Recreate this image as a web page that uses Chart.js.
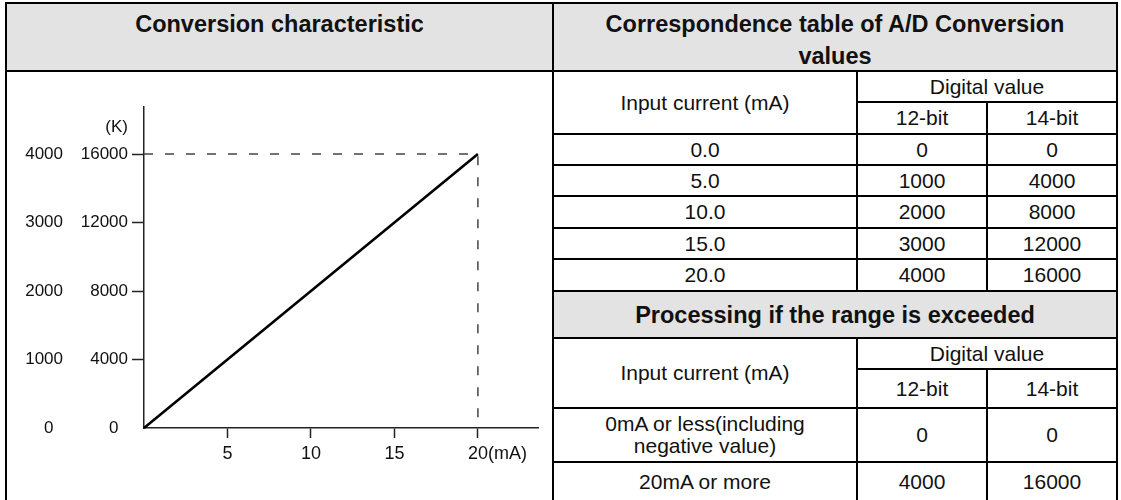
<!DOCTYPE html>
<html>
<head>
<meta charset="utf-8">
<title>A/D conversion characteristic</title>
<script src="https://cdn.jsdelivr.net/npm/chart.js@4/dist/chart.umd.min.js"></script>
<style>
  html, body { margin: 0; padding: 0; background: #fff; width: 1121px; height: 500px; overflow: hidden;
    font-family: "Liberation Sans", Arial, Helvetica, sans-serif; color: #111; }
  .cell { position: absolute; box-sizing: border-box; border: 2px solid #000; display: flex;
    align-items: center; justify-content: center; text-align: center; font-size: 21px; line-height: 22px;
    white-space: pre-line; }
  .head { background: #e3e3e3; font-weight: bold; font-size: 23.5px; line-height: 32px; }
  .top { align-items: flex-start; padding-top: 4px; }
  #chartBox { position: absolute; left: 8px; top: 73px; width: 544px; height: 427px; }
</style>
</head>
<body>
<div id="table"></div>
<div id="chartBox"><canvas id="chart" width="544" height="427"></canvas></div>
<script>
// ---- data ----
const currentMA = [0, 5, 10, 15, 20];
const digital12 = [0, 1000, 2000, 3000, 4000];
const digital14 = [0, 4000, 8000, 12000, 16000];
const xTickValues = [5, 10, 15, 20];
const yTickValues14 = [0, 4000, 8000, 12000, 16000];
const yTickValues12 = [0, 1000, 2000, 3000, 4000];
const rangeCases = ['0mA or less(including\nnegative value)', '20mA or more'];
const rangeValues12 = [0, 4000];
const rangeValues14 = [0, 16000];

// ---- table layout (line positions) ----
const colX = [6, 553, 857, 987, 1117];
const headY = [3, 71];
const convRowsY = [71, 102, 134, 165, 196, 228, 259, 291];
const rangeRowsY = [291, 338, 369, 408, 462, 502];

const tableEl = document.getElementById('table');
function addCell(x0, x1, y0, y1, html, cls) {
  const d = document.createElement('div');
  d.className = 'cell' + (cls ? ' ' + cls : '');
  d.style.left = (x0 - 1) + 'px';
  d.style.top = (y0 - 1) + 'px';
  d.style.width = (x1 - x0 + 2) + 'px';
  d.style.height = (y1 - y0 + 2) + 'px';
  d.innerHTML = html;
  tableEl.appendChild(d);
}

// headers
addCell(colX[0], colX[1], headY[0], headY[1], 'Conversion characteristic', 'head top');
addCell(colX[1], colX[4], headY[0], headY[1], 'Correspondence table of A/D Conversion<br>values', 'head top');
// chart cell
addCell(colX[0], colX[1], headY[1], 502, '', '');

// correspondence table
addCell(colX[1], colX[2], convRowsY[0], convRowsY[2], 'Input current (mA)');
addCell(colX[2], colX[4], convRowsY[0], convRowsY[1], 'Digital value');
addCell(colX[2], colX[3], convRowsY[1], convRowsY[2], '12-bit');
addCell(colX[3], colX[4], convRowsY[1], convRowsY[2], '14-bit');
currentMA.forEach((v, i) => {
  const y0 = convRowsY[i + 2], y1 = convRowsY[i + 3];
  addCell(colX[1], colX[2], y0, y1, v.toFixed(1));
  addCell(colX[2], colX[3], y0, y1, String(digital12[i]));
  addCell(colX[3], colX[4], y0, y1, String(digital14[i]));
});

// out-of-range processing table
addCell(colX[1], colX[4], rangeRowsY[0], rangeRowsY[1], 'Processing if the range is exceeded', 'head');
addCell(colX[1], colX[2], rangeRowsY[1], rangeRowsY[3], 'Input current (mA)');
addCell(colX[2], colX[4], rangeRowsY[1], rangeRowsY[2], 'Digital value');
addCell(colX[2], colX[3], rangeRowsY[2], rangeRowsY[3], '12-bit');
addCell(colX[3], colX[4], rangeRowsY[2], rangeRowsY[3], '14-bit');
rangeCases.forEach((label, i) => {
  const y0 = rangeRowsY[i + 3], y1 = rangeRowsY[i + 4];
  addCell(colX[1], colX[2], y0, y1, label);
  addCell(colX[2], colX[3], y0, y1, String(rangeValues12[i]));
  addCell(colX[3], colX[4], y0, y1, String(rangeValues14[i]));
});

// ---- chart ----
const FONT = '"Liberation Sans", Arial, Helvetica, sans-serif';
const fullMA = currentMA[currentMA.length - 1];
const full14 = digital14[digital14.length - 1];
const full12 = digital12[digital12.length - 1];
const yMax14 = 18750;
const xMax = 23.6;
const X_TICK_LEN = 10, X_TICK_PAD = 5, X_FONT = 18;
const Y_TICK_LEN = 12, Y_TICK_PAD = 4, Y_FONT = 17;

// a zero label is nudged left by trailing spaces, as in the printed scale
const yLabel = v => (v === 0 ? '0  ' : String(v));

const unitLabels = {
  id: 'unitLabels',
  afterDraw(chart) {
    const { ctx, chartArea, scales: { x, y } } = chart;
    ctx.save();
    ctx.fillStyle = '#111';
    ctx.textBaseline = 'middle';
    ctx.font = Y_FONT + 'px ' + FONT;
    ctx.textAlign = 'right';
    ctx.fillText('(K)', y.right - Y_TICK_LEN - Y_TICK_PAD, chartArea.top + 20);
    ctx.font = X_FONT + 'px ' + FONT;
    const lastTick = xTickValues[xTickValues.length - 1];
    const w = ctx.measureText(String(lastTick)).width;
    ctx.textAlign = 'left';
    ctx.fillText('(mA)', x.getPixelForValue(lastTick) + w / 2,
      x.top + X_TICK_LEN + X_TICK_PAD + X_FONT * 1.2 / 2);
    ctx.restore();
  }
};

new Chart(document.getElementById('chart'), {
  type: 'scatter',
  data: {
    datasets: [
      {
        label: '14-bit',
        data: currentMA.map((x, i) => ({ x, y: digital14[i] })),
        showLine: true,
        borderColor: '#000',
        borderWidth: 2.6,
        pointRadius: 0,
        clip: false,
        order: 1
      },
      {
        label: 'Full scale',
        data: [{ x: 0, y: full14 }, { x: fullMA, y: full14 }, { x: fullMA, y: 0 }],
        showLine: true,
        borderColor: '#444',
        borderWidth: 1.5,
        borderDash: [9, 12],
        pointRadius: 0,
        clip: false,
        order: 2
      }
    ]
  },
  options: {
    responsive: false,
    devicePixelRatio: 1,
    animation: false,
    events: [],
    layout: { padding: { top: 34, right: 14, left: 0, bottom: 0 } },
    plugins: { legend: { display: false }, tooltip: { enabled: false } },
    scales: {
      x: {
        type: 'linear', min: 0, max: xMax,
        afterBuildTicks: s => { s.ticks = xTickValues.map(v => ({ value: v })); },
        afterFit: s => { s.height = 72; },
        grid: { drawOnChartArea: false, drawTicks: true, tickLength: X_TICK_LEN, tickColor: '#222', tickWidth: 1.5 },
        border: { display: true, color: '#222', width: 1.5 },
        ticks: { font: { size: X_FONT, family: FONT }, color: '#111', padding: X_TICK_PAD,
          maxRotation: 0, autoSkip: false, callback: v => String(v) }
      },
      y: {
        type: 'linear', position: 'left', weight: 0, min: 0, max: yMax14,
        afterBuildTicks: s => { s.ticks = yTickValues14.map(v => ({ value: v })); },
        afterFit: s => { s.width = 81; },
        grid: { drawOnChartArea: false, drawTicks: true, tickLength: Y_TICK_LEN, tickWidth: 1.5,
          tickColor: c => (c.tick && c.tick.value === 0 ? 'rgba(0,0,0,0)' : '#222') },
        border: { display: true, color: '#222', width: 1.5 },
        ticks: { font: { size: Y_FONT, family: FONT }, color: '#111', padding: Y_TICK_PAD,
          autoSkip: false, callback: yLabel }
      },
      y12: {
        type: 'linear', position: 'left', weight: 1, min: 0, max: yMax14 * full12 / full14,
        afterBuildTicks: s => { s.ticks = yTickValues12.map(v => ({ value: v })); },
        afterFit: s => { s.width = 55; },
        grid: { display: false, drawTicks: false },
        border: { display: false },
        ticks: { font: { size: Y_FONT, family: FONT }, color: '#111', padding: 0,
          autoSkip: false, callback: yLabel }
      }
    }
  },
  plugins: [unitLabels]
});
</script>
</body>
</html>
